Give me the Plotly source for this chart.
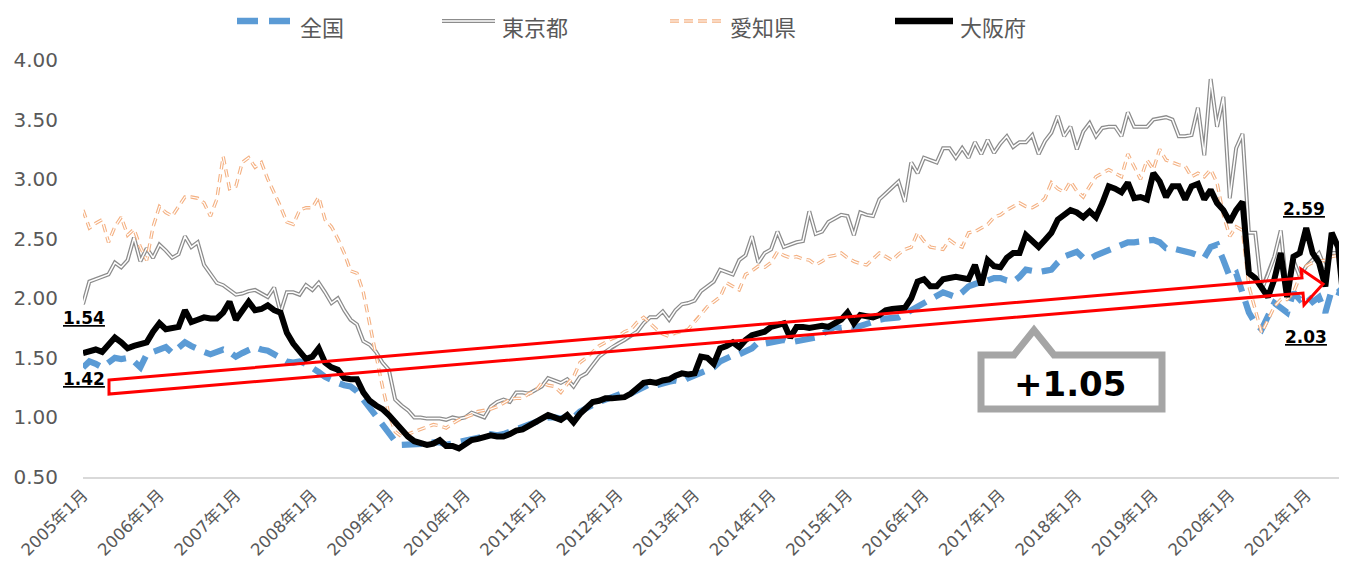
import plotly.graph_objects as go

# ---------------- data (monthly, 2005年1月 .. 2021年7月) ----------------
years = list(range(2005, 2022))
tick_labels = [f"{y}年1月" for y in years]

zenkoku = [
    1.42, 1.47, 1.45, 1.42, 1.46, 1.50, 1.49, 1.50, 1.47, 1.42, 1.53, 1.55,
    1.58, 1.59, 1.54, 1.58, 1.63, 1.60, 1.57, 1.55, 1.53, 1.55, 1.57, 1.55,
    1.51, 1.54, 1.57, 1.59, 1.57, 1.56, 1.53, 1.50, 1.47, 1.46, 1.47, 1.45,
    1.42, 1.38, 1.34, 1.31, 1.29, 1.27, 1.26, 1.22, 1.15, 1.08, 1.00, 0.93,
    0.87, 0.80, 0.77, 0.77, 0.78, 0.77, 0.78, 0.79, 0.79, 0.77, 0.78, 0.79,
    0.80, 0.82, 0.83, 0.84, 0.86, 0.85, 0.86, 0.88, 0.90, 0.92, 0.95, 0.97,
    0.98, 1.00, 1.00, 0.99, 1.01, 1.00, 1.05, 1.08, 1.10, 1.13, 1.15, 1.17,
    1.19, 1.21, 1.20, 1.23, 1.25, 1.28, 1.27, 1.29, 1.30, 1.31, 1.30, 1.33,
    1.35, 1.38, 1.40, 1.42, 1.47, 1.50, 1.52, 1.53, 1.55, 1.58, 1.63, 1.62,
    1.63, 1.64, 1.65, 1.63, 1.64, 1.65, 1.66, 1.67, 1.70, 1.73, 1.76, 1.75,
    1.76, 1.75, 1.77, 1.79, 1.80, 1.82, 1.83, 1.84, 1.84, 1.87, 1.90, 1.93,
    1.96, 1.99, 2.02, 2.05, 2.03, 2.01, 2.05, 2.10, 2.12, 2.13, 2.15, 2.17,
    2.17, 2.15, 2.14, 2.18, 2.24, 2.23, 2.22, 2.23, 2.24, 2.30, 2.35, 2.37,
    2.39, 2.34, 2.33, 2.36, 2.38, 2.41, 2.43, 2.45, 2.47, 2.47, 2.48, 2.48,
    2.49, 2.47, 2.42, 2.42, 2.41, 2.40, 2.38, 2.36, 2.34, 2.43, 2.45, 2.32,
    2.18, 2.21, 2.05, 1.88, 1.79, 1.74, 1.85, 1.96, 1.92, 1.88, 2.05, 1.99,
    2.03, 1.97, 2.01, 1.88, 2.07, 2.05, 2.10,
]

tokyo = [
    1.95, 2.14, 2.16, 2.18, 2.20, 2.30, 2.26, 2.32, 2.51, 2.31, 2.42, 2.34,
    2.45, 2.40, 2.34, 2.37, 2.52, 2.43, 2.47, 2.28, 2.20, 2.13, 2.11, 2.07,
    2.03, 2.04, 2.06, 2.07, 2.04, 2.01, 2.09, 1.88, 2.05, 2.05, 2.03, 2.11,
    2.07, 2.13, 2.05, 1.96, 2.00, 1.90, 1.82, 1.78, 1.64, 1.61, 1.55, 1.46,
    1.40, 1.15, 1.10, 1.06, 1.00, 1.00, 0.99, 0.99, 0.99, 0.98, 1.00, 0.99,
    1.00, 1.04, 1.02, 1.00, 1.09, 1.13, 1.15, 1.13, 1.21, 1.21, 1.20, 1.23,
    1.26, 1.33, 1.31, 1.29, 1.32, 1.26, 1.34, 1.37, 1.44, 1.51, 1.55, 1.59,
    1.62, 1.65, 1.69, 1.72, 1.79, 1.84, 1.84, 1.89, 1.82, 1.90, 1.95, 1.96,
    1.98, 2.06, 2.10, 2.14, 2.24, 2.22, 2.20, 2.32, 2.36, 2.52, 2.30, 2.38,
    2.41, 2.56, 2.43, 2.45, 2.47, 2.48, 2.73, 2.54, 2.56, 2.64, 2.67, 2.70,
    2.69, 2.53, 2.72, 2.70, 2.69, 2.83, 2.88, 2.93, 2.98, 2.81, 3.14, 3.05,
    3.18, 3.16, 3.14, 3.26, 3.26, 3.18, 3.26, 3.18, 3.31, 3.21, 3.33, 3.22,
    3.30, 3.36, 3.27, 3.31, 3.31, 3.37, 3.21, 3.32, 3.39, 3.53, 3.36, 3.44,
    3.25, 3.40, 3.47, 3.36, 3.43, 3.44, 3.44, 3.36, 3.56, 3.44, 3.44, 3.44,
    3.50, 3.51, 3.52, 3.50, 3.36, 3.36, 3.37, 3.60, 3.20, 3.84, 3.44, 3.69,
    2.84, 3.26, 3.38, 2.55, 2.55, 2.07, 2.20, 2.35, 2.57, 2.05, 2.32, 2.18,
    2.27, 2.32, 2.38, 2.25, 2.38, 2.38, 2.38,
]

aichi = [
    2.74, 2.59, 2.63, 2.66, 2.47, 2.60, 2.68, 2.53, 2.58, 2.43, 2.32, 2.60,
    2.77, 2.72, 2.69, 2.77, 2.85, 2.85, 2.84, 2.80, 2.69, 2.83, 3.19, 2.92,
    2.94, 3.14, 3.18, 3.10, 3.14, 3.00, 2.89, 2.77, 2.64, 2.62, 2.74, 2.76,
    2.76, 2.85, 2.66, 2.60, 2.50, 2.38, 2.23, 2.21, 2.05, 1.80, 1.52, 1.26,
    1.03, 0.88, 0.84, 0.86, 0.88, 0.90, 0.92, 0.94, 0.93, 0.91, 0.95, 0.98,
    1.00, 1.02, 1.05, 1.06, 1.07, 1.09, 1.12, 1.15, 1.16, 1.16, 1.20, 1.22,
    1.29, 1.27, 1.26, 1.21, 1.28, 1.34, 1.46, 1.50, 1.55, 1.60, 1.63, 1.66,
    1.68, 1.72, 1.74, 1.80, 1.84, 1.79, 1.74, 1.70, 1.68, 1.71, 1.72, 1.74,
    1.80, 1.86, 1.93, 1.97, 2.01, 2.13, 2.10, 2.07, 2.20, 2.23, 2.27, 2.26,
    2.30, 2.39, 2.36, 2.34, 2.35, 2.33, 2.32, 2.28, 2.31, 2.35, 2.36, 2.38,
    2.34, 2.31, 2.29, 2.28, 2.33, 2.38, 2.35, 2.32, 2.37, 2.41, 2.43, 2.55,
    2.48, 2.43, 2.42, 2.41, 2.49, 2.45, 2.43, 2.55, 2.56, 2.59, 2.62, 2.68,
    2.70, 2.74, 2.77, 2.80, 2.77, 2.76, 2.79, 2.84, 2.97, 2.92, 2.89, 2.98,
    2.90, 2.85, 2.94, 3.02, 3.05, 3.08, 3.05, 3.02, 3.21, 3.11, 3.00, 3.16,
    3.08, 3.25, 3.16, 3.14, 3.12, 3.11, 3.02, 3.05, 3.02, 3.08, 2.97, 2.70,
    2.52, 2.60, 2.57, 2.10, 1.90, 1.71, 1.82, 1.93, 1.99, 1.99, 2.05, 2.18,
    2.27, 2.30, 2.31, 2.32, 2.35, 2.36, 2.38,
]

osaka = [
    1.54, 1.56, 1.57, 1.55, 1.61, 1.67, 1.63, 1.58, 1.60, 1.62, 1.63, 1.72,
    1.79, 1.74, 1.75, 1.76, 1.90, 1.80, 1.82, 1.84, 1.83, 1.83, 1.88, 1.97,
    1.82, 1.90, 1.97, 1.90, 1.91, 1.94, 1.90, 1.88, 1.71, 1.62, 1.55, 1.49,
    1.51, 1.58, 1.46, 1.42, 1.40, 1.33, 1.32, 1.32, 1.21, 1.14, 1.10, 1.07,
    1.02, 0.96, 0.90, 0.84, 0.80, 0.78, 0.77, 0.78, 0.81, 0.76, 0.76, 0.74,
    0.78, 0.81, 0.82, 0.84, 0.85, 0.84, 0.84, 0.86, 0.89, 0.90, 0.93, 0.95,
    0.98, 1.02, 1.00, 0.98, 1.02, 0.96, 1.03, 1.08, 1.13, 1.14, 1.16, 1.16,
    1.17, 1.17, 1.20, 1.25, 1.29, 1.30, 1.29, 1.31, 1.32, 1.35, 1.37, 1.36,
    1.37, 1.51, 1.50, 1.45, 1.58, 1.60, 1.63, 1.59, 1.65, 1.69, 1.70, 1.72,
    1.76, 1.77, 1.79, 1.67, 1.76, 1.76, 1.75, 1.76, 1.77, 1.76, 1.79, 1.82,
    1.88, 1.79, 1.86, 1.85, 1.84, 1.86, 1.90, 1.91, 1.91, 1.92, 2.00, 2.14,
    2.16, 2.10, 2.10, 2.16, 2.17, 2.18, 2.17, 2.16, 2.28, 2.11, 2.32, 2.27,
    2.26, 2.34, 2.38, 2.38, 2.53, 2.48, 2.43, 2.49, 2.55, 2.66, 2.70, 2.74,
    2.72, 2.68, 2.73, 2.68, 2.80, 2.94, 2.92, 2.89, 2.97, 2.84, 2.85, 2.83,
    3.05, 2.98, 2.85, 2.94, 2.94, 2.83, 2.94, 2.96, 2.83, 2.91, 2.80, 2.74,
    2.64, 2.74, 2.81, 2.21, 2.17, 2.10, 2.01, 2.16, 2.38, 2.01, 2.35, 2.38,
    2.59, 2.38, 2.30, 2.10, 2.55, 2.43, 1.91,
]

series_names = ["全国", "東京都", "愛知県", "大阪府"]
value_labels = ["1.54", "1.42", "2.59", "2.03", "+1.05"]

# ---------------- figure ----------------
n = len(osaka)
x = list(range(n))

OFF = 8  # page body margin in the browser
W, H = 1347 - OFF, 562 - OFF
ML, MR, MT, MB = 75, 0, 52, 85
XR = [0, n - 1 + 0.4]
YR = [0.5, 4.0]
pw, ph = W - ML - MR, H - MT - MB
X0, Y1 = OFF + ML, OFF + H - MB  # page pixel of plot left / plot bottom


def dx(px):  # page pixel -> data x
    return XR[0] + (px - X0) / pw * (XR[1] - XR[0])


def dy(py):  # page pixel -> data y
    return YR[0] + (Y1 - py) / ph * (YR[1] - YR[0])


def px_(px):  # page pixel -> paper x
    return (px - X0) / pw


def py_(py):  # page pixel -> paper y
    return (Y1 - py) / ph


BLUE = "#5B9BD5"
GRAY = "#8C8C8C"
ORANGE = "#F4B183"
TXT = "#595959"
FONT = "DejaVu Sans, Noto Sans CJK JP"
JP = "Noto Sans CJK JP"

fig = go.Figure()
fig.add_trace(go.Scatter(x=x, y=zenkoku, mode="lines", name=series_names[0],
                         line=dict(color=BLUE, width=6.2, dash="20px,10px")))
fig.add_trace(go.Scatter(x=x, y=tokyo, mode="lines", name=series_names[1],
                         line=dict(color=GRAY, width=4.0)))
fig.add_trace(go.Scatter(x=x, y=tokyo, mode="lines", name=series_names[1],
                         line=dict(color="white", width=1.5), showlegend=False,
                         hoverinfo="skip"))
fig.add_trace(go.Scatter(x=x, y=aichi, mode="lines", name=series_names[2],
                         line=dict(color=ORANGE, width=3.4, dash="8px,5px")))
fig.add_trace(go.Scatter(x=x, y=aichi, mode="lines", name=series_names[2],
                         line=dict(color="white", width=1.2, dash="8px,5px"),
                         showlegend=False, hoverinfo="skip"))
fig.add_trace(go.Scatter(x=x, y=osaka, mode="lines", name=series_names[3],
                         line=dict(color="black", width=6)))

shapes = []
annotations = []

# arrow (outlined block arrow)
arrow_px = [(109, 380), (1302, 278), (1301, 269), (1323, 284),
            (1304, 305), (1303, 293), (109, 394)]
path = "M " + " L ".join(f"{dx(a):.3f},{dy(b):.4f}" for a, b in arrow_px) + " Z"
shapes.append(dict(type="path", xref="x", yref="y", path=path,
                   line=dict(color="#FF0000", width=3), fillcolor="rgba(0,0,0,0)",
                   layer="above"))

# callout box
call_px = [(981, 355), (1014, 355), (1034, 330), (1054, 355), (1162, 355),
           (1162, 409), (981, 409)]
path = "M " + " L ".join(f"{dx(a):.3f},{dy(b):.4f}" for a, b in call_px) + " Z"
shapes.append(dict(type="path", xref="x", yref="y", path=path,
                   line=dict(color="#A5A5A5", width=7), fillcolor="white",
                   layer="above"))
annotations.append(dict(x=dx(1070), y=dy(384), xref="x", yref="y",
                        text=value_labels[4], showarrow=False,
                        font=dict(family=FONT, size=34, color="black", weight="bold")))

# value labels (bold, underlined)
for txt, (a, b) in zip(value_labels[:4], [(84, 318), (84, 379), (1304, 209), (1306, 337)]):
    annotations.append(dict(x=dx(a), y=dy(b), xref="x", yref="y", text=txt,
                            showarrow=False,
                            font=dict(family=FONT, size=17, color="black",
                                      weight="bold", lineposition="under")))

# custom legend
LY = 21
shapes.append(dict(type="line", xref="paper", yref="paper", x0=px_(237), x1=px_(290),
                   y0=py_(LY), y1=py_(LY), line=dict(color=BLUE, width=6.5, dash="21px,11px")))
shapes.append(dict(type="line", xref="paper", yref="paper", x0=px_(442), x1=px_(495),
                   y0=py_(LY), y1=py_(LY), line=dict(color=GRAY, width=4.0)))
shapes.append(dict(type="line", xref="paper", yref="paper", x0=px_(442), x1=px_(495),
                   y0=py_(LY), y1=py_(LY), line=dict(color="white", width=1.5)))
shapes.append(dict(type="line", xref="paper", yref="paper", x0=px_(670), x1=px_(725),
                   y0=py_(LY), y1=py_(LY), line=dict(color=ORANGE, width=3.4, dash="9px,5px")))
shapes.append(dict(type="line", xref="paper", yref="paper", x0=px_(670), x1=px_(725),
                   y0=py_(LY), y1=py_(LY), line=dict(color="white", width=1.2, dash="9px,5px")))
shapes.append(dict(type="line", xref="paper", yref="paper", x0=px_(895), x1=px_(953),
                   y0=py_(LY), y1=py_(LY), line=dict(color="black", width=6.5)))
for name, tx in zip(series_names, [298, 500, 728, 958]):
    annotations.append(dict(x=px_(tx), y=py_(26), xref="paper", yref="paper",
                            xanchor="left", yanchor="middle", text=name, showarrow=False,
                            font=dict(family=JP, size=22, color=TXT)))

fig.update_layout(
    width=W, height=H,
    margin=dict(l=ML, r=MR, t=MT, b=MB),
    paper_bgcolor="white", plot_bgcolor="white",
    showlegend=False,
    font=dict(family=FONT, color=TXT),
    shapes=shapes, annotations=annotations,
)
fig.update_xaxes(range=XR, tickvals=list(range(0, n, 12)), ticktext=tick_labels,
                 tickangle=-45, showgrid=False, zeroline=False, showline=True,
                 linecolor="#D9D9D9", linewidth=2, ticks="",
                 tickfont=dict(family=FONT, size=16.5, color=TXT))
fig.update_yaxes(range=YR, tickvals=[0.5, 1.0, 1.5, 2.0, 2.5, 3.0, 3.5, 4.0],
                 tickformat=".2f", showgrid=False, zeroline=False, showline=False,
                 ticks="", ticklabelstandoff=24,
                 tickfont=dict(family=FONT, size=20, color=TXT))

fig.write_html("out.html")
